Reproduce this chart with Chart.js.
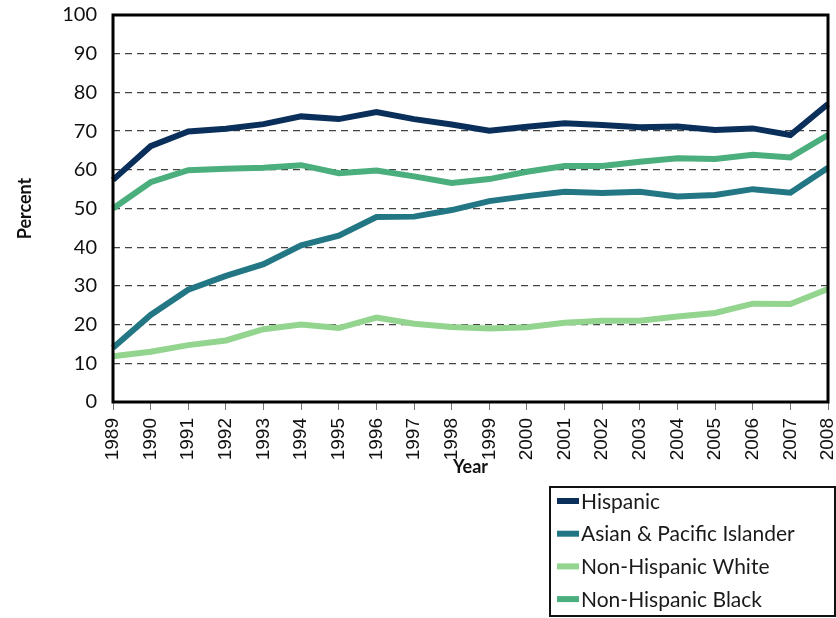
<!DOCTYPE html>
<html>
<head>
<meta charset="utf-8">
<script src="https://cdn.jsdelivr.net/npm/chart.js@4.4.0/dist/chart.umd.min.js"></script>
<style>
  html, body { margin: 0; padding: 0; background: #fff; }
  #wrap { width: 836px; height: 618px; position: relative; }
</style>
</head>
<body>
<div id="wrap"><canvas id="chart" width="836" height="618"></canvas></div>
<script>
// Share of births, by race/ethnicity, 1989-2008
var years = ["1989", "1990", "1991", "1992", "1993", "1994", "1995", "1996", "1997", "1998",
             "1999", "2000", "2001", "2002", "2003", "2004", "2005", "2006", "2007", "2008"];

var hispanic = [57.4, 66.1, 69.9, 70.6, 71.8, 73.8, 73.1, 74.9, 73.1, 71.7,
                70.1, 71.1, 72.0, 71.6, 71.0, 71.2, 70.3, 70.7, 69.0, 77.0];
var asianPacific = [14.0, 22.5, 29.0, 32.6, 35.6, 40.5, 43.0, 47.8, 47.9, 49.6,
                    51.9, 53.2, 54.3, 54.0, 54.3, 53.1, 53.5, 55.0, 54.1, 60.5];
var nonHispWhite = [11.8, 13.0, 14.7, 15.9, 18.8, 20.0, 19.1, 21.8, 20.2, 19.4,
                    19.0, 19.3, 20.5, 21.0, 21.0, 22.1, 23.0, 25.4, 25.3, 29.2];
var nonHispBlack = [50.0, 56.8, 59.9, 60.3, 60.5, 61.2, 59.1, 59.8, 58.3, 56.6,
                    57.6, 59.5, 61.0, 61.0, 62.1, 63.0, 62.8, 63.9, 63.2, 69.0];

var seriesNames = ["Hispanic", "Asian & Pacific Islander", "Non-Hispanic White", "Non-Hispanic Black"];
var seriesColors = ["#0a2f5b", "#237785", "#93d58f", "#4aae7d"];
var yTicks = [0, 10, 20, 30, 40, 50, 60, 70, 80, 90, 100];

var seriesData = [hispanic, asianPacific, nonHispWhite, nonHispBlack];
var datasets = seriesNames.map(function (name, i) {
    return {
        label: name,
        data: seriesData[i],
        borderColor: seriesColors[i],
        backgroundColor: seriesColors[i],
        borderWidth: 6,
        pointRadius: 0,
        tension: 0,
        fill: false
    };
});

// black frame round the plot area, drawn over the lines
var frame = {
    id: 'frame',
    afterDatasetsDraw: function (chart) {
        var a = chart.chartArea, c = chart.ctx;
        c.save();
        c.strokeStyle = '#000';
        c.lineWidth = 3;
        c.strokeRect(a.left, a.top, a.right - a.left, a.bottom - a.top);
        c.restore();
    }
};

// boxed legend in the lower right corner
var boxLegend = {
    id: 'boxLegend',
    afterDraw: function (chart) {
        var c = chart.ctx;
        var x = 549, y = 486, w = 287, h = 132;
        c.save();
        c.fillStyle = '#fff';
        c.fillRect(x, y, w, h);
        c.strokeStyle = '#111';
        c.lineWidth = 2;
        c.strokeRect(x + 1, y + 1, w - 2, h - 3);
        c.font = '21px Lato';
        c.textBaseline = 'middle';
        chart.data.datasets.forEach(function (ds, i) {
            var cy = y + 15 + i * 32.7;
            c.fillStyle = ds.borderColor;
            c.fillRect(x + 8, cy - 3, 22, 6);
            c.fillStyle = '#1a1a1a';
            c.fillText(ds.label, x + 32, cy + 1);
        });
        c.restore();
    }
};

var ctx = document.getElementById('chart');
var myChart = new Chart(ctx, {
    type: 'line',
    data: { labels: years, datasets: datasets },
    options: {
        responsive: false,
        animation: false,
        layout: { padding: { top: 15, right: 8, left: 0, bottom: 0 } },
        plugins: {
            legend: { display: false },
            tooltip: { enabled: false }
        },
        scales: {
            x: {
                offset: false,
                afterFit: function (scale) {
                    scale.height = 216;
                    scale.paddingLeft = 0;
                    scale.paddingRight = 0;
                },
                grid: { drawOnChartArea: false, color: '#777', tickLength: 8, lineWidth: 1 },
                border: { display: false },
                ticks: {
                    minRotation: 90, maxRotation: 90, autoSkip: false,
                    padding: 8,
                    color: '#111',
                    font: { family: 'Liberation Sans', size: 19 }
                },
                title: {
                    display: true, text: 'Year', color: '#111',
                    font: { family: 'Lato', size: 18, weight: 'bold' },
                    padding: { top: 0, bottom: 140 }
                }
            },
            y: {
                min: 0, max: 100,
                afterFit: function (scale) {
                    scale.width = 113;
                    scale.paddingTop = 0;
                    scale.paddingBottom = 0;
                },
                afterBuildTicks: function (scale) {
                    scale.ticks = yTicks.map(function (v) { return { value: v }; });
                },
                grid: {
                    color: '#444', lineWidth: 1.3, drawTicks: false
                },
                border: { display: false, dash: [7, 5] },
                ticks: {
                    padding: 16,
                    color: '#111',
                    font: { family: 'Lato', size: 20 }
                },
                title: {
                    display: true, text: 'Percent', color: '#111',
                    font: { family: 'Lato', size: 18, weight: 'bold' },
                    padding: { top: 14, bottom: 0 }
                }
            }
        }
    },
    plugins: [frame, boxLegend]
});
</script>
</body>
</html>
